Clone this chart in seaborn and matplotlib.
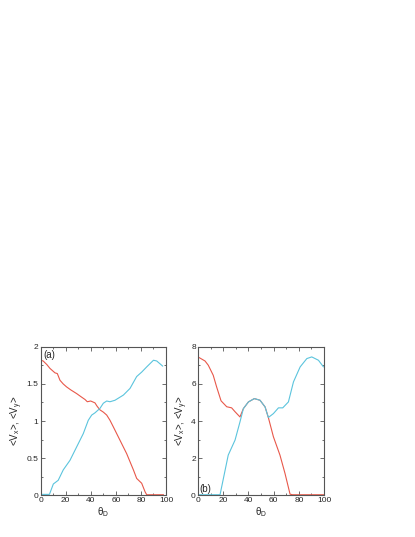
import matplotlib
matplotlib.use("Agg")
import matplotlib.pyplot as plt
from matplotlib.ticker import MultipleLocator
import seaborn as sns

# panel (a)
a_red_x = [0, 2, 5, 7.4, 11.4, 13.3, 15.4, 18, 20.7, 24, 28.7, 32, 35.4, 37.2, 39.9, 43.3, 45,
           47.3, 50, 52.7, 55.3, 58, 63.3, 68.6, 74, 76.6, 80.6, 83.3, 84.6, 90, 98]
a_red_y = [1.82, 1.81, 1.76, 1.71, 1.65, 1.64, 1.55, 1.5, 1.46, 1.42, 1.37, 1.33, 1.29, 1.26, 1.27,
           1.245, 1.2, 1.15, 1.12, 1.08, 1.01, 0.92, 0.74, 0.56, 0.34, 0.225, 0.16, 0.045, 0.005,
           0.005, 0.005]
a_cyan_x = [0, 7, 10.1, 14, 18, 23.4, 28.7, 34, 38, 40.7, 43.3, 47.3, 50, 52.7, 55.3, 59.3, 66,
            71.3, 76.6, 80.6, 84.6, 90, 92.6, 97.4]
a_cyan_y = [0.01, 0.01, 0.15, 0.2, 0.34, 0.47, 0.65, 0.83, 1.01, 1.08, 1.11, 1.17, 1.24, 1.27,
            1.26, 1.28, 1.35, 1.44, 1.6, 1.66, 1.73, 1.82, 1.81, 1.74]

# panel (b)
b_red_x = [0, 5.6, 8.2, 12.1, 14.8, 18.3, 22.8, 26.7, 29.4, 33.3, 36, 40, 44.7, 49.2, 53.2,
           55.8, 59.8, 65, 69, 73, 75, 100]
b_red_y = [7.46, 7.24, 7.01, 6.47, 5.84, 5.09, 4.77, 4.71, 4.5, 4.22, 4.67, 5.03, 5.21, 5.12,
           4.76, 4.19, 3.15, 2.16, 1.17, 0.05, 0.02, 0.02]
b_cyan_x = [0, 17.5, 24, 29.4, 33.3, 36, 40, 44.7, 49.2, 53.2, 55.8, 59.8, 63.8, 67.2, 71.7,
            75.7, 81, 86.3, 90.2, 95.5, 99.5]
b_cyan_y = [0.02, 0.02, 2.16, 2.97, 3.95, 4.67, 5.03, 5.21, 5.12, 4.76, 4.19, 4.4, 4.71, 4.71,
            5.03, 6.11, 6.92, 7.37, 7.46, 7.28, 6.92]

red = "#e8584a"
cyan = "#5bc4dd"

sns.set_style("ticks")
plt.rcParams['font.family'] = ['Liberation Sans', 'DejaVu Sans']
plt.rcParams['mathtext.fontset'] = 'custom'
plt.rcParams['mathtext.rm'] = 'Liberation Sans'
plt.rcParams['mathtext.it'] = 'Liberation Sans'

fig = plt.figure(figsize=(4.15, 5.37), dpi=100)
ax1 = fig.add_axes([0.098, 0.078, 0.302, 0.276])
ax2 = fig.add_axes([0.477, 0.078, 0.304, 0.276])

panels = [
    (ax1, a_red_x, a_red_y, a_cyan_x, a_cyan_y, 2, 0.5, 0.25, "(a)"),
    (ax2, b_red_x, b_red_y, b_cyan_x, b_cyan_y, 8, 2, 1, "(b)"),
]

for ax, rx, ry, cx, cy, ymax, ymaj, ymin, tag in panels:
    sns.lineplot(x=rx, y=ry, ax=ax, color=red, linewidth=0.8, estimator=None, sort=False)
    sns.lineplot(x=cx, y=cy, ax=ax, color=cyan, linewidth=0.8, estimator=None, sort=False)
    ax.set_xlim(0, 100)
    ax.set_ylim(0, ymax)
    ax.xaxis.set_major_locator(MultipleLocator(20))
    ax.xaxis.set_minor_locator(MultipleLocator(10))
    ax.yaxis.set_major_locator(MultipleLocator(ymaj))
    ax.yaxis.set_minor_locator(MultipleLocator(ymin))
    ax.yaxis.set_major_formatter(plt.FuncFormatter(lambda v, p: f"{v:g}"))
    ax.tick_params(which='both', direction='in', top=True, right=True, labelsize=6,
                   color='#555555', pad=1.5)
    ax.tick_params(which='major', length=3, width=0.6)
    ax.tick_params(which='minor', length=1.5, width=0.6)
    for s in ax.spines.values():
        s.set_color('#555555')
        s.set_linewidth(0.8)
    ax.set_xlabel(r"$\theta_D$", fontsize=7, labelpad=1)
    ax.set_ylabel(r"<V$_x$>, <V$_y$>", fontsize=7, labelpad=1)
    if tag == "(a)":
        ax.text(0.02, 0.98, tag, transform=ax.transAxes, ha='left', va='top', fontsize=7)
    else:
        ax.text(0.01, 0.01, tag, transform=ax.transAxes, ha='left', va='bottom', fontsize=7)

fig.savefig("out.png", dpi=100)
